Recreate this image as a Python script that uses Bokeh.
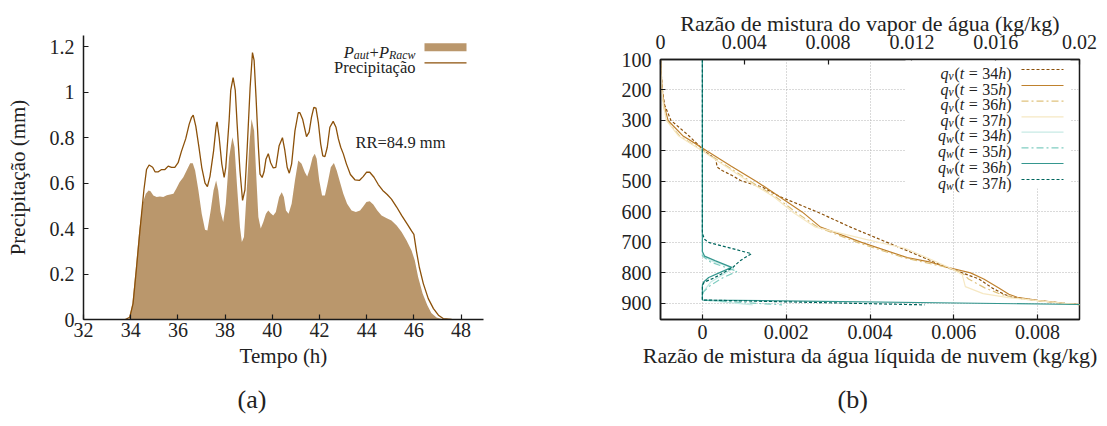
from bokeh.plotting import figure
from bokeh.layouts import row
from bokeh.models import Range1d, LinearAxis, FixedTicker, Label, BoxAnnotation, Arrow, Title
from bokeh.embed import file_html
from bokeh.resources import INLINE

FONT = "Liberation Serif"

# ---------------- (a) precipitation time series ----------------
t_precip = [33.77, 33.96, 34.10, 34.24, 34.39, 34.56, 34.67, 34.78, 34.93, 35.03, 35.17, 35.31,
            35.45, 35.59, 35.73, 35.87, 36.01, 36.15, 36.33, 36.48, 36.58, 36.65, 36.76, 36.89,
            37.01, 37.15, 37.25, 37.36, 37.51, 37.62, 37.66, 37.75, 37.86, 37.96, 38.03, 38.17,
            38.24, 38.34, 38.43, 38.51, 38.63, 38.74, 38.84, 38.94, 39.06, 39.16, 39.23, 39.31,
            39.41, 39.48, 39.57, 39.65, 39.73, 39.83, 39.93, 40.04, 40.15, 40.29, 40.43, 40.53,
            40.63, 40.72, 40.82, 40.96, 41.10, 41.17, 41.29, 41.45, 41.56, 41.66, 41.76, 41.85,
            41.95, 42.05, 42.14, 42.23, 42.33, 42.44, 42.58, 42.70, 42.80, 42.90, 43.01, 43.14,
            43.31, 43.50, 43.69, 43.85, 43.99, 44.13, 44.31, 44.49, 44.68, 44.87, 45.05, 45.27,
            45.48, 45.72, 45.90, 46.00, 46.11, 46.23, 46.40, 46.61, 46.83, 47.04, 47.24, 47.60]
precip = [0.0, 0.01, 0.07, 0.22, 0.39, 0.57, 0.66, 0.68, 0.67, 0.65, 0.65, 0.66,
          0.66, 0.675, 0.67, 0.67, 0.69, 0.74, 0.795, 0.86, 0.89, 0.90, 0.85, 0.76,
          0.67, 0.60, 0.585, 0.63, 0.74, 0.85, 0.87, 0.80, 0.685, 0.625, 0.67, 0.875,
          1.01, 1.065, 1.01, 0.86, 0.655, 0.524, 0.57, 0.76, 1.02, 1.175, 1.14, 0.98,
          0.76, 0.64, 0.625, 0.65, 0.705, 0.73, 0.69, 0.667, 0.67, 0.765, 0.80, 0.745,
          0.67, 0.644, 0.685, 0.83, 0.91, 0.91, 0.88, 0.805, 0.825, 0.89, 0.934, 0.93,
          0.868, 0.773, 0.72, 0.717, 0.758, 0.846, 0.872, 0.846, 0.795, 0.758, 0.729, 0.685,
          0.638, 0.615, 0.612, 0.629, 0.648, 0.648, 0.626, 0.594, 0.568, 0.55, 0.53, 0.495,
          0.458, 0.42, 0.39, 0.375, 0.30, 0.23, 0.158, 0.092, 0.048, 0.019, 0.004, 0.0]

t_autoconv = [33.93, 34.07, 34.21, 34.36, 34.50, 34.64, 34.76, 34.84, 34.96, 35.10, 35.24, 35.38,
              35.53, 35.67, 35.81, 35.93, 36.07, 36.23, 36.37, 36.52, 36.63, 36.73, 36.87, 37.01,
              37.15, 37.25, 37.39, 37.51, 37.62, 37.71, 37.81, 37.92, 38.03, 38.17, 38.31, 38.40,
              38.51, 38.63, 38.71, 38.80, 38.91, 39.03, 39.12, 39.23, 39.31, 39.41, 39.51, 39.62,
              39.73, 39.83, 39.93, 40.04, 40.15, 40.29, 40.40, 40.49, 40.58, 40.69, 40.82, 40.96,
              41.10, 41.24, 41.38, 41.48, 41.59, 41.71, 41.80, 41.88, 41.99, 42.11, 42.23, 42.34,
              42.48, 42.61, 42.73, 42.87, 43.01, 43.17, 43.36, 43.54, 43.72, 43.86, 43.99, 44.13,
              44.28, 44.45, 44.63, 44.85, 45.05, 45.27, 45.48, 45.69, 45.90, 46.04, 46.18, 46.37,
              46.57, 46.74, 46.96, 47.24]
autoconv = [0.0, 0.07, 0.22, 0.39, 0.51, 0.553, 0.568, 0.565, 0.546, 0.539, 0.541, 0.539,
            0.547, 0.55, 0.553, 0.575, 0.604, 0.626, 0.656, 0.688, 0.688, 0.656, 0.568, 0.465,
            0.395, 0.392, 0.48, 0.568, 0.612, 0.568, 0.473, 0.429, 0.509, 0.714, 0.802, 0.758,
            0.582, 0.407, 0.341, 0.363, 0.553, 0.773, 0.882, 0.831, 0.656, 0.451, 0.40, 0.429,
            0.465, 0.48, 0.468, 0.458, 0.473, 0.539, 0.56, 0.539, 0.48, 0.465, 0.509, 0.612,
            0.70, 0.685, 0.648, 0.629, 0.663, 0.714, 0.729, 0.707, 0.612, 0.546, 0.546, 0.597,
            0.67, 0.689, 0.656, 0.604, 0.553, 0.509, 0.48, 0.473, 0.48, 0.498, 0.517, 0.521,
            0.506, 0.48, 0.458, 0.446, 0.436, 0.414, 0.385, 0.348, 0.304, 0.26, 0.187, 0.114,
            0.063, 0.029, 0.009, 0.0]

time_ticks = [32, 34, 36, 38, 40, 42, 44, 46, 48]
precip_ticks = [0, 0.2, 0.4, 0.6, 0.8, 1.0, 1.2]
precip_tick_labels = ["0", "0.2", "0.4", "0.6", "0.8", "1", "1.2"]
rr_text = "RR=84.9 mm"

# ---------------- (b) vertical profiles ----------------
qv34_p = [100, 150, 200, 250, 300, 350, 380, 400, 426, 453, 464, 480, 497, 520, 550, 600, 650,
          700, 750, 780, 800, 820, 850, 870, 880, 890, 900, 905]
qv34 = [0, 0.00004, 0.00009, 0.0002, 0.0005, 0.00135, 0.0018, 0.00208, 0.00263, 0.00271,
        0.00294, 0.0034, 0.00382, 0.0049, 0.0057, 0.00748, 0.00907, 0.01082, 0.01257, 0.0136,
        0.0144, 0.0152, 0.01584, 0.01639, 0.01679, 0.0179, 0.0193, 0.0201]
qv35_p = [100, 150, 200, 250, 300, 350, 376, 400, 450, 500, 550, 600, 650, 700, 750, 765, 780,
          800, 820, 850, 870, 880, 890, 900, 905]
qv35 = [0, 0.00004, 0.00008, 0.00017, 0.00036, 0.00106, 0.00167, 0.00222, 0.00338, 0.00458,
        0.00568, 0.00676, 0.00764, 0.0096, 0.01178, 0.01289, 0.0136, 0.0148, 0.01543, 0.01615,
        0.01663, 0.01703, 0.018, 0.0193, 0.0201]
qv36_p = [100, 150, 200, 250, 300, 350, 400, 450, 500, 550, 600, 650, 700, 750, 780, 800, 820,
          850, 870, 880, 890, 900, 905]
qv36 = [0, 0.00003, 0.00007, 0.00014, 0.0003, 0.0009, 0.00205, 0.00318, 0.0043, 0.00549,
        0.00644, 0.0075, 0.00939, 0.01161, 0.01352, 0.0144, 0.0147, 0.0155, 0.01623, 0.0168,
        0.01774, 0.0193, 0.0201]
qv37_p = [100, 150, 200, 250, 300, 350, 400, 450, 500, 550, 600, 650, 690, 720, 750, 780, 805,
          845, 868, 881, 890, 900, 905]
qv37 = [0, 0.00003, 0.00007, 0.00014, 0.00028, 0.00085, 0.002, 0.0031, 0.0042, 0.0054, 0.0063,
        0.0074, 0.0098, 0.0117, 0.0127, 0.0137, 0.0144, 0.01455, 0.0154, 0.0166, 0.0179, 0.0193,
        0.0201]

qw34_p = [100, 740, 760, 785, 805, 830, 860, 872, 889, 905]
qw34 = [0, 0, 0.0002, 0.00075, 0.0005, 0.0002, 0.00003, 0, 0, 0.0012]
qw35_p = [100, 745, 765, 795, 815, 840, 862, 872, 889, 905]
qw35 = [0, 0, 0.0002, 0.00083, 0.0005, 0.0002, 0.00003, 0, 0, 0.0019]
qw36_p = [100, 730, 745, 760, 782, 800, 815, 830, 840, 889, 905]
qw36 = [0, 0, 0.00005, 0.0003, 0.0007, 0.0004, 0.00015, 0.00003, 0, 0, 0.0098]
qw37_p = [100, 670, 690, 700, 737, 760, 783, 800, 816, 830, 840, 889, 905]
qw37 = [0, 0, 0.00005, 0.00015, 0.00117, 0.0009, 0.00072, 0.0005, 0.00029, 0.00005, 0, 0, 0.0053]

pressure_ticks = [100, 200, 300, 400, 500, 600, 700, 800, 900]
qv_ticks = [0, 0.004, 0.008, 0.012, 0.016, 0.02]
qv_tick_labels = ["0", "0.004", "0.008", "0.012", "0.016", "0.02"]
qw_ticks = [0, 0.002, 0.004, 0.006, 0.008]
qw_tick_labels = ["0", "0.002", "0.004", "0.006", "0.008"]
hours = ["34", "35", "36", "37"]

BRBG = ["#8c510a", "#bf812d", "#dfc27d", "#f6e8c3", "#c7eae5", "#80cdc1", "#35978f", "#01665e"]
DASHES = ["3 2", "solid", "7 3 2 3", "solid", "solid", "7 3 2 3", "solid", "3 2"]

# approximate glyph advance widths (em/1000) for composing math-style labels
REG_W = {"(": 333, ")": 333, "=": 564, "+": 564, ".": 250}
ITA_W = {"q": 500, "v": 444, "w": 667, "t": 278, "h": 500, "P": 611, "a": 500,
         "u": 500, "R": 611, "c": 444}


def text_width(txt, italic, size):
    table = ITA_W if italic else REG_W
    return sum(table.get(ch, 500) for ch in txt) / 1000.0 * size


def rich_label(plot, pieces, x_right, y_base, size, color="#222222"):
    """pieces: (text, italic, scale, dy, gap_before_em)"""
    total = 0.0
    for txt, it, sc, dy, gap in pieces:
        total += gap * size + text_width(txt, it, size * sc)
    x = x_right - total
    for txt, it, sc, dy, gap in pieces:
        x += gap * size
        plot.add_layout(Label(x=x, y=y_base + dy, x_units="screen", y_units="screen", text=txt,
                              text_font=FONT, text_font_style="italic" if it else "normal",
                              text_font_size=f"{size * sc:.1f}px", text_color=color,
                              text_align="left", text_baseline="alphabetic"))
        x += text_width(txt, it, size * sc)


def style_axis(ax, size="20px"):
    ax.axis_line_color = "#1a1a1a"
    ax.axis_line_width = 1.5
    ax.major_tick_in = 5
    ax.major_tick_out = 0
    ax.minor_tick_in = 0
    ax.minor_tick_out = 0
    ax.major_tick_line_color = "#1a1a1a"
    ax.major_tick_line_width = 1.2
    ax.major_label_text_font = FONT
    ax.major_label_text_font_size = size
    ax.major_label_text_color = "#222222"
    ax.axis_label_text_font = FONT
    ax.axis_label_text_font_style = "normal"
    ax.axis_label_text_color = "#222222"


def caption(plot, text, offset, standoff):
    plot.add_layout(Title(text=text, align="left", offset=offset, standoff=standoff,
                          text_font=FONT, text_font_size="26px", text_font_style="normal",
                          text_color="#222222"), "below")


# ---------------- figure (a) ----------------
pa = figure(width=560, height=426, x_range=Range1d(32, 48.95), y_range=Range1d(0, 1.25),
            title=None, output_backend="svg", toolbar_location=None,
            min_border_left=83, min_border_right=77, min_border_top=35, min_border_bottom=107)
pa.frame_align = False
pa.outline_line_color = None
pa.grid.visible = False
pa.background_fill_color = "white"
pa.border_fill_color = "white"

pa.varea(x=t_autoconv, y1=0, y2=autoconv, fill_color="#8c510a", fill_alpha=0.6)
pa.line(t_precip, precip, line_color="#8c510a", line_width=1.3)

xa = pa.xaxis[0]
ya = pa.yaxis[0]
style_axis(xa)
style_axis(ya)
xa.ticker = FixedTicker(ticks=time_ticks, minor_ticks=[])
ya.ticker = FixedTicker(ticks=precip_ticks, minor_ticks=[])
ya.major_label_overrides = dict(zip(precip_ticks, precip_tick_labels))
xa.axis_label = "Tempo (h)"
ya.axis_label = "Precipitação (mm)"
xa.axis_label_text_font_size = "21px"
ya.axis_label_text_font_size = "21px"
xa.major_label_standoff = 3
ya.major_label_standoff = 9
xa.axis_label_standoff = 4
ya.axis_label_standoff = 17
caption(pa, "(a)", 154, 25)

# legend of (a)
rich_label(pa, [("P", True, 1, 0, 0), ("aut", True, 0.72, -3, 0), ("+", False, 1, 0, 0.02),
                ("P", True, 1, 0, 0.02), ("Racw", True, 0.72, -3, 0)],
           332, 267.5, 16.5)
pa.add_layout(Label(x=332, y=252.5, x_units="screen", y_units="screen", text="Precipitação",
                    text_font=FONT, text_font_size="16.5px", text_color="#222222",
                    text_align="right", text_baseline="alphabetic"))
pa.add_layout(BoxAnnotation(left=341, right=383, bottom=268.3, top=276.3,
                            left_units="screen", right_units="screen",
                            bottom_units="screen", top_units="screen",
                            fill_color="#8c510a", fill_alpha=0.6, line_color=None))
pa.add_layout(Arrow(end=None, x_start=341, y_start=256.7, x_end=383, y_end=256.7,
                    start_units="screen", end_units="screen",
                    line_color="#8c510a", line_width=1.3))
pa.add_layout(Label(x=272, y=177, x_units="screen", y_units="screen", text=rr_text,
                    text_font=FONT, text_font_size="16.5px", text_color="#222222",
                    text_baseline="alphabetic"))

# ---------------- figure (b) ----------------
pb = figure(width=547, height=426, x_range=Range1d(-0.001, 0.009), y_range=Range1d(953, 100),
            title=None, output_backend="svg", toolbar_location=None,
            min_border_left=100, min_border_right=28, min_border_top=59, min_border_bottom=107)
pb.frame_align = False
pb.extra_x_ranges = {"qv": Range1d(0, 0.02)}
pb.outline_line_color = "#1a1a1a"
pb.outline_line_width = 1.5
pb.background_fill_color = "white"
pb.border_fill_color = "white"

xb = pb.xaxis[0]
yb = pb.yaxis[0]
top = LinearAxis(x_range_name="qv")
pb.add_layout(top, "above")
for ax in (xb, yb, top):
    style_axis(ax)
xb.ticker = FixedTicker(ticks=qw_ticks, minor_ticks=[])
xb.major_label_overrides = dict(zip(qw_ticks, qw_tick_labels))
top.ticker = FixedTicker(ticks=qv_ticks, minor_ticks=[])
top.major_label_overrides = dict(zip(qv_ticks, qv_tick_labels))
yb.ticker = FixedTicker(ticks=pressure_ticks, minor_ticks=[])
xb.axis_label = "Razão de mistura da água líquida de nuvem (kg/kg)"
top.axis_label = "Razão de mistura do vapor de água (kg/kg)"
xb.axis_label_text_font_size = "22px"
top.axis_label_text_font_size = "22px"
xb.major_label_standoff = 5
top.major_label_standoff = 11
yb.major_label_standoff = 9
xb.axis_label_standoff = 1
top.axis_label_standoff = -4
caption(pb, "(b)", 177, 24)

pb.xgrid.ticker = FixedTicker(ticks=qw_ticks, minor_ticks=[])
pb.ygrid.ticker = FixedTicker(ticks=pressure_ticks, minor_ticks=[])
for g in (pb.xgrid[0], pb.ygrid[0]):
    g.grid_line_color = "#b5b5b5"
    g.grid_line_dash = "1 2"
    g.grid_line_width = 1

qv_series = [(qv34, qv34_p), (qv35, qv35_p), (qv36, qv36_p), (qv37, qv37_p)]
qw_series = [(qw34, qw34_p), (qw35, qw35_p), (qw36, qw36_p), (qw37, qw37_p)]
for i, (xs, ps) in enumerate(qv_series):
    pb.line(xs, ps, x_range_name="qv", line_color=BRBG[i], line_width=1.2, line_dash=DASHES[i])
for i, (xs, ps) in enumerate(qw_series):
    pb.line(xs, ps, line_color=BRBG[4 + i], line_width=1.2, line_dash=DASHES[4 + i])

# legend of (b)
pb.add_layout(BoxAnnotation(left=245, right=410, bottom=131, top=259,
                            left_units="screen", right_units="screen",
                            bottom_units="screen", top_units="screen",
                            fill_color="white", fill_alpha=1.0, line_color=None))
row_centers = [250, 234, 218.3, 202.7, 187.3, 171.7, 156, 140]
for i in range(8):
    sub = "v" if i < 4 else "w"
    hh = hours[i % 4]
    yc = row_centers[i]
    rich_label(pb, [("q", True, 1, 0, 0), (sub, True, 0.72, -3, 0), ("(", False, 1, 0, 0.05),
                    ("t", True, 1, 0, 0), ("=", False, 1, 0, 0.28), (hh, False, 1, 0, 0.28),
                    ("h", True, 1, 0, 0), (")", False, 1, 0, 0)],
               351, yc - 3.5, 16)
    pb.add_layout(Arrow(end=None, x_start=361, y_start=yc, x_end=403, y_end=yc,
                        start_units="screen", end_units="screen",
                        line_color=BRBG[i], line_width=1.2, line_dash=DASHES[i]))

layout = row(pa, pb)
open("out.html", "w").write(file_html(layout, INLINE))
